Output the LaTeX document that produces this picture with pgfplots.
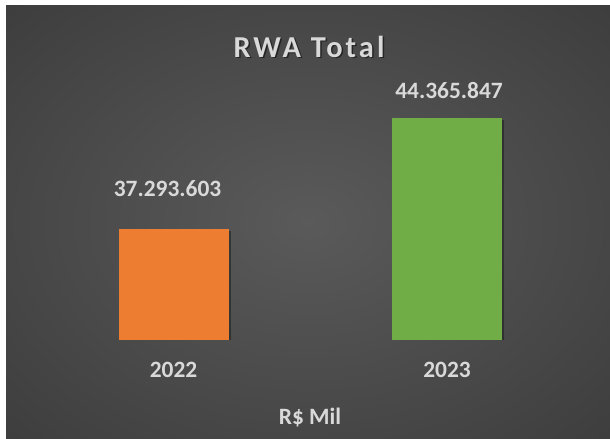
\documentclass[border=0pt]{standalone}
\usepackage{fontspec}
\setmainfont{Carlito}
\newfontfamily\titlefont[LetterSpace=10]{Carlito}
\usepackage{pgfplots}
\pgfplotsset{compat=1.18}
\usetikzlibrary{shadows}
\definecolor{txt}{HTML}{D9D9D9}
\definecolor{bgin}{HTML}{5A5A5A}
\definecolor{bgmid}{HTML}{323232}
\definecolor{bgout}{HTML}{262626}
\definecolor{orangebar}{HTML}{ED7D31}
\definecolor{greenbar}{HTML}{70AD47}
\pgfdeclareradialshading{bgshade}{\pgfpoint{0bp}{0bp}}{color(0bp)=(bgin); color(50bp)=(bgmid); color(72bp)=(bgout)}
\begin{document}
\begin{tikzpicture}[x=1bp,y=1bp]
\fill[white] (0,0) rectangle (610,439);
\shade[shading=bgshade] (6,0) rectangle (610,433);
\begin{axis}[
  at={(36.75bp,99bp)}, anchor=south west,
  scale only axis, width=547bp, height=279bp,
  xmin=-0.5, xmax=1.5, ymin=30221400, ymax=48000000,
  axis line style={draw=none},
  ytick=\empty, xtick={0,1}, xticklabels={2022,2023},
  major tick length=0pt,
  xticklabel style={font=\fontsize{23.5}{27}\selectfont\bfseries, text=txt, inner sep=0pt, anchor=north, yshift=-22bp},
  ybar, bar width=110bp, bar shift=0pt,
  point meta=explicit symbolic,
  nodes near coords,
  every node near coord/.append style={font=\fontsize{23.5}{27}\selectfont\bfseries, text=txt, inner sep=0pt, anchor=south},
]
\addplot[fill=orangebar, draw=none, drop shadow={shadow xshift=2bp, shadow yshift=-2bp, opacity=0.35, fill=black},
  every node near coord/.append style={xshift=-6bp, yshift=32.3bp}]
  coordinates {(0,37293603) [37.293.603]};
\addplot[fill=greenbar, draw=none, drop shadow={shadow xshift=2bp, shadow yshift=-2bp, opacity=0.35, fill=black},
  every node near coord/.append style={xshift=2bp, yshift=19.3bp}]
  coordinates {(1,44365847) [44.365.847]};
\end{axis}
\node[anchor=base, text=black, opacity=0.5, inner sep=0pt] at (310.5,380.2) {\titlefont\fontsize{30.5}{35}\selectfont\bfseries RWA Total};
\node[anchor=base, text=txt, inner sep=0pt] at (309,381.7) {\titlefont\fontsize{30.5}{35}\selectfont\bfseries RWA Total};
\node[anchor=base, text=txt, inner sep=0pt] at (310,14) {\fontsize{23.5}{27}\selectfont\bfseries R\$ Mil};
\end{tikzpicture}
\end{document}
